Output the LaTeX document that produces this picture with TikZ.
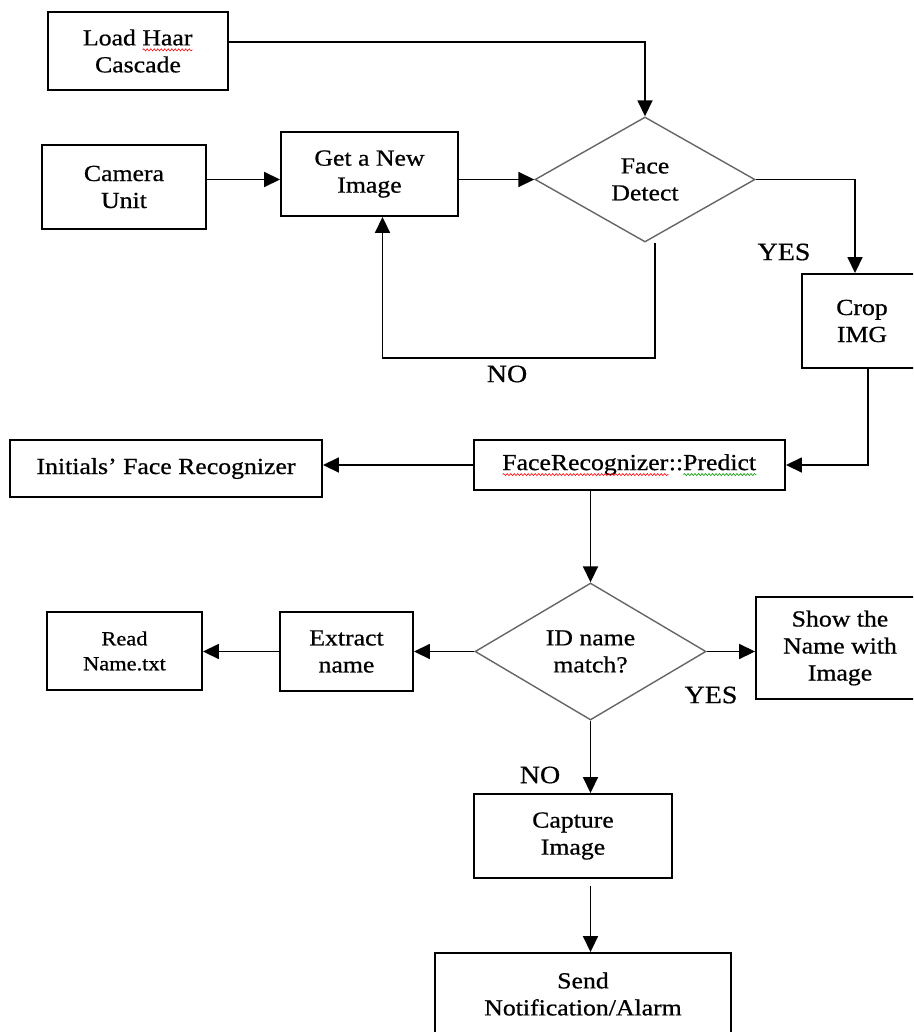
\documentclass[tikz,border=0pt]{standalone}
\usepackage{fontspec}
\setmainfont{Liberation Serif}[FakeStretch=1.12,FakeBold=0.7]
\usetikzlibrary{shapes.geometric,arrows.meta,calc,decorations.pathmorphing}
\newlength\wavelen
\newcommand\wavy[2]{\settowidth\wavelen{#2}\leavevmode\rlap{#2}\raisebox{-4.5pt}{\tikz[baseline=0pt]\draw[#1,line width=0.6pt,decorate,decoration={snake,amplitude=1pt,segment length=3.5pt}] (0pt,0pt) -- (\wavelen,0pt);}}
\begin{document}
\begin{tikzpicture}[x=1pt,y=-1pt,
  txt/.style={font=\fontsize{23}{27}\selectfont},
  box/.style={draw=black, line width=1.9pt, rectangle, align=center, inner sep=0pt, txt},
  dec/.style={draw=black!60, line width=1.4pt, diamond, align=center, inner sep=0pt, txt},
  arr/.style={draw=black, line width=1.7pt, -{Triangle[length=16pt,width=15pt]}},
  lbl/.style={font=\fontsize{25}{28}\selectfont, inner sep=0pt}]
\useasboundingbox (0,0) rectangle (913,1032);
\fill[white] (0,0) rectangle (913,1032);
\clip (0,0) rectangle (913,1032);

% nodes
\node[box, minimum width=180pt, minimum height=78pt] (lh) at (138,51) {Load \wavy{red}{Haar}\\Cascade};
\node[box, minimum width=164pt, minimum height=84pt] (cam) at (124,187) {Camera\\Unit};
\node[box, minimum width=177pt, minimum height=84pt] (get) at (369.5,174) {Get a New\\Image};
\node[dec, minimum width=220pt, minimum height=125pt] (fd) at (645,179.5) {Face\\Detect};
\node[box, minimum width=120pt, minimum height=94pt] (crop) at (862,321) {Crop\\IMG};
\node[box, minimum width=312pt, minimum height=57pt] (init) at (166,468.5) {Initials’ Face Recognizer};
\node[box, minimum width=311pt, minimum height=50pt] (pred) at (629.5,465) {\wavy{red}{FaceRecognizer}::\wavy{green!60!black}{Predict}};
\node[dec, minimum width=231pt, minimum height=137pt] (id) at (590.5,651.5) {ID name\\match?};
\node[box, minimum width=133pt, minimum height=79pt] (ext) at (346.5,651.5) {Extract\\name};
\node[box, minimum width=155pt, minimum height=78pt, font=\fontsize{20}{25}\selectfont] (read) at (124.5,651) {Read\\Name.txt};
\node[box, minimum width=168pt, minimum height=102pt] (show) at (840,648) {Show the\\Name with\\Image};
\node[box, minimum width=198pt, minimum height=84pt] (cap) at (573,836) {Capture\\Image};
\node[box, minimum width=296pt, minimum height=82pt] (send) at (583,994) {Send\\Notification/Alarm};

% labels
\node[lbl] (yes1) at (784,252) {YES};
\node[lbl] (no1) at (507,374) {NO};
\node[lbl] (yes2) at (711,695) {YES};
\node[lbl] (no2) at (540,775) {NO};

\coordinate (noc) at (655,358);

% connectors
\draw[arr] ([yshift=9pt]lh.east) -| (fd.north);
\draw[arr] (cam.east |- fd.west) -- (get.west |- fd.west);
\draw[arr] (get.east |- fd.west) -- (fd.west);
\draw[arr] (fd.east) -| ([xshift=-7pt]crop.north);
\draw[arr] ([xshift=10pt]fd.south) -- (noc) -| ([xshift=13pt]get.south);
\draw[arr] ([xshift=6pt]crop.south) |- (pred.east);
\draw[arr] (pred.west) -- (pred.west -| init.east);
\draw[arr] (id.north |- pred.south) -- (id.north);
\draw[arr] (id.west) -- (id.west -| ext.east);
\draw[arr] (ext.west) -- (ext.west -| read.east);
\draw[arr] (id.east) -- (id.east -| show.west);
\draw[arr] (id.south) -- (id.south |- cap.north);
\draw[arr] ($(id.south |- cap.south)+(0,7)$) -- (id.south |- send.north);
\end{tikzpicture}
\end{document}
